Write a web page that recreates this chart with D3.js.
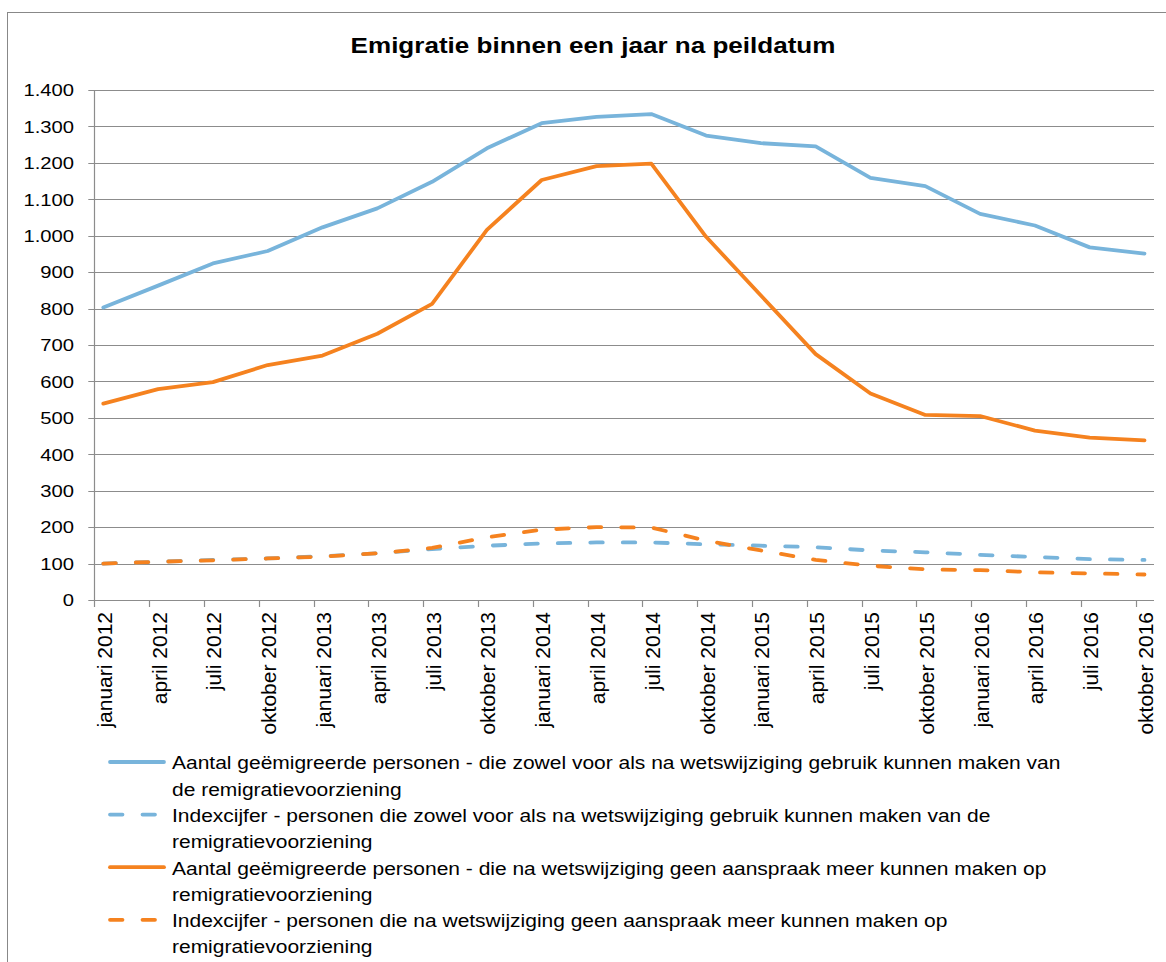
<!DOCTYPE html>
<html>
<head>
<meta charset="utf-8">
<script src="https://cdn.jsdelivr.net/npm/d3@7"></script>
<style>
  body { margin: 0; background: #fff; }
  text { font-family: "Liberation Sans", Arial, sans-serif; fill: #000; }
</style>
</head>
<body>
<svg id="chart"></svg>
<script>
const width = 1166;
const height = 962;

// quarters (peildatum)
const categories = [
  "januari 2012", "april 2012", "juli 2012", "oktober 2012",
  "januari 2013", "april 2013", "juli 2013", "oktober 2013",
  "januari 2014", "april 2014", "juli 2014", "oktober 2014",
  "januari 2015", "april 2015", "juli 2015", "oktober 2015",
  "januari 2016", "april 2016", "juli 2016", "oktober 2016"
];

const aantalZowel = [803, 863, 924, 958, 1023, 1075, 1148, 1240, 1309, 1326, 1334, 1275, 1254, 1245, 1159, 1136, 1060, 1028, 968, 951];
const indexZowel = [100, 105, 110, 114, 120, 128, 140, 149, 155, 158, 158, 153, 149, 145, 136, 131, 124, 118, 112, 110];
const aantalGeen = [539, 579, 598, 645, 671, 731, 813, 1016, 1153, 1191, 1198, 997, 836, 675, 567, 508, 505, 465, 446, 438];
const indexGeen = [100, 105, 109, 114, 119, 128, 143, 172, 193, 200, 199, 163, 136, 110, 94, 84, 82, 76, 73, 70];

const yTicks = d3.range(0, 1401, 100);

const legendLines = [
  ["Aantal geëmigreerde personen - die zowel voor als na wetswijziging gebruik kunnen maken van", "de remigratievoorziening"],
  ["Indexcijfer - personen die zowel voor als na wetswijziging gebruik kunnen maken van de", "remigratievoorziening"],
  ["Aantal geëmigreerde personen - die na wetswijziging geen aanspraak meer kunnen maken op", "remigratievoorziening"],
  ["Indexcijfer - personen die na wetswijziging geen aanspraak meer kunnen maken op", "remigratievoorziening"]
];

const blue = "#78b4db";
const orange = "#f5821f";
const series = [
  { values: aantalZowel, color: blue, dash: null },
  { values: indexZowel, color: blue, dash: "12.5 20" },
  { values: aantalGeen, color: orange, dash: null },
  { values: indexGeen, color: orange, dash: "12.5 20" }
];

// the original picture is stretched a bit horizontally
const sx = 1.17;
const grey = "#8c8c8c";

const svg = d3.select("#chart")
  .attr("width", width)
  .attr("height", height);

svg.append("rect")
  .attr("x", 7.5).attr("y", 12.5)
  .attr("width", 1300).attr("height", 1100)
  .attr("fill", "#fff")
  .attr("stroke", "#888");

const x = d3.scalePoint()
  .domain(categories)
  .range([103.3, 1144.5]);

const y = d3.scaleLinear()
  .domain([0, 1400])
  .range([600, 90]);

const tickOffset = 9;
const left = x(categories[0]) - tickOffset;
const right = 1154;

// title
svg.append("text")
  .attr("transform", `translate(${width / 2 + 10},52.5) scale(${sx * 0.99},1)`)
  .attr("text-anchor", "middle")
  .style("font-size", "22.5px")
  .style("font-weight", "bold")
  .text("Emigratie binnen een jaar na peildatum");

// grid + y ticks
const grid = svg.append("g");
grid.selectAll("line.grid")
  .data(yTicks)
  .enter().append("line")
  .attr("x1", left - 6).attr("x2", right)
  .attr("y1", d => Math.round(y(d)) + 0.5)
  .attr("y2", d => Math.round(y(d)) + 0.5)
  .attr("stroke", grey)
  .attr("stroke-width", 1.2);

grid.selectAll("text")
  .data(yTicks)
  .enter().append("text")
  .attr("transform", d => `translate(74,${y(d)}) scale(${sx},1)`)
  .attr("text-anchor", "end")
  .attr("dy", "0.36em")
  .style("font-size", "17.3px")
  .text(d => d3.format(",")(d).replace(/,/g, "."));

// y axis line
svg.append("line")
  .attr("x1", Math.round(left) + 0.5).attr("x2", Math.round(left) + 0.5)
  .attr("y1", y(1400)).attr("y2", y(0))
  .attr("stroke", grey)
  .attr("stroke-width", 1.2);

// x ticks
svg.append("g").selectAll("line")
  .data(categories)
  .enter().append("line")
  .attr("x1", d => Math.round(x(d) - tickOffset) + 0.5)
  .attr("x2", d => Math.round(x(d) - tickOffset) + 0.5)
  .attr("y1", y(0)).attr("y2", y(0) + 7)
  .attr("stroke", grey)
  .attr("stroke-width", 1.2);

// x labels
svg.append("g").selectAll("text")
  .data(categories)
  .enter().append("text")
  .attr("transform", d => `translate(${x(d) + 1},612) rotate(-90)`)
  .attr("text-anchor", "end")
  .attr("dy", "0.36em")
  .style("font-size", "21px")
  .text(d => d);

// lines
const line = d3.line()
  .x((d, i) => x(categories[i]))
  .y(d => y(d));

svg.append("g").selectAll("path")
  .data(series)
  .enter().append("path")
  .attr("d", d => line(d.values))
  .attr("fill", "none")
  .attr("stroke", d => d.color)
  .attr("stroke-width", 3.8)
  .attr("stroke-linejoin", "round")
  .attr("stroke-linecap", "round")
  .attr("stroke-dasharray", d => d.dash);

// legend
const legend = svg.append("g").selectAll("g")
  .data(series)
  .enter().append("g")
  .attr("transform", (d, i) => `translate(0,${762 + i * 52.6})`);

legend.append("line")
  .attr("x1", 110).attr("x2", 164)
  .attr("y1", 0).attr("y2", 0)
  .attr("stroke", d => d.color)
  .attr("stroke-width", 3.8)
  .attr("stroke-linecap", "round")
  .attr("stroke-dasharray", d => d.dash);

legend.each(function(d, i) {
  const g = d3.select(this);
  legendLines[i].forEach((t, j) => {
    g.append("text")
      .attr("transform", `translate(172,${7.3 + j * 26.3}) scale(1.135,1)`)
      .style("font-size", "18.5px")
      .text(t);
  });
});
</script>
</body>
</html>
